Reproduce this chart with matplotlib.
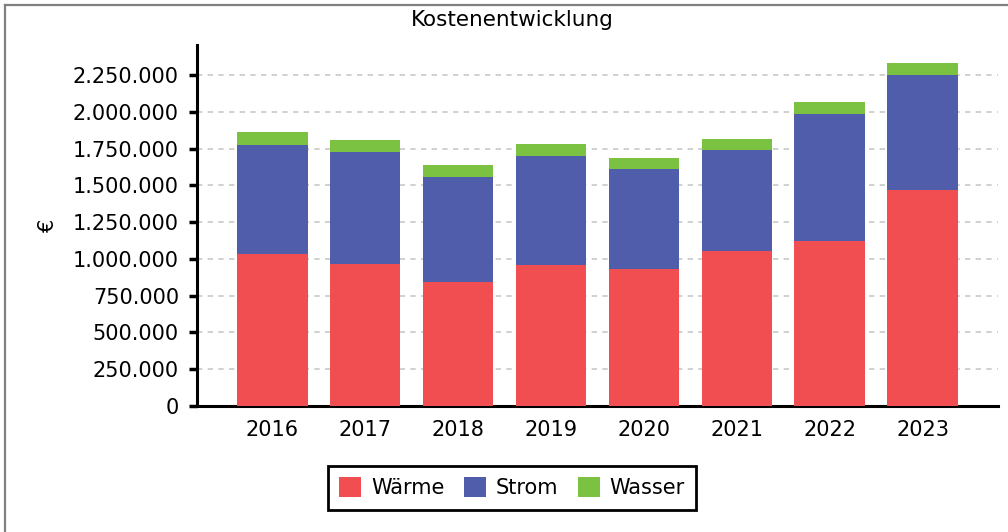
import matplotlib.pyplot as plt
from matplotlib.lines import Line2D
from matplotlib.ticker import FuncFormatter

# Data (EUR)
years = ['2016', '2017', '2018', '2019', '2020', '2021', '2022', '2023']
waerme = [1033000, 965000, 843000, 958000, 931000, 1054000, 1122000, 1468000]
strom = [741000, 762000, 714000, 742000, 680000, 686000, 863000, 782000]
wasser = [89000, 81000, 81000, 81000, 75000, 75000, 82000, 82000]

c_waerme = '#F04E50'
c_strom = '#505DAA'
c_wasser = '#7BC142'

plt.rcParams['font.family'] = ['DejaVu Sans']

fig = plt.figure(figsize=(10.08, 5.32), dpi=100)
ax = fig.add_axes([0.1954, 0.2368, 0.7946, 0.6786])

x = list(range(len(years)))
bottom2 = [w for w in waerme]
bottom3 = [w + s for w, s in zip(waerme, strom)]
ax.bar(x, waerme, width=0.76, color=c_waerme, label='Wärme', zorder=3)
ax.bar(x, strom, width=0.76, bottom=bottom2, color=c_strom, label='Strom', zorder=3)
ax.bar(x, wasser, width=0.76, bottom=bottom3, color=c_wasser, label='Wasser', zorder=3)

ax.set_xlim(-0.81, 7.81)
ax.set_ylim(0, 2454000)
ax.set_yticks([i * 250000 for i in range(10)])
ax.yaxis.set_major_formatter(FuncFormatter(lambda v, p: f'{int(v):,}'.replace(',', '.')))
ax.set_xticks(x)
ax.set_xticklabels(years)

ax.grid(axis='y', color='#c8c8c8', linestyle=(0, (3.2, 3.2)), linewidth=1.2, zorder=1)
for s in ['top', 'right']:
    ax.spines[s].set_visible(False)
ax.spines['left'].set_linewidth(2.2)
ax.spines['bottom'].set_linewidth(2.2)
ax.tick_params(axis='y', length=6, width=2.5, labelsize=15, pad=7)
ax.tick_params(axis='x', length=0, labelsize=15, pad=10)
ax.set_ylabel('€', fontsize=15, labelpad=11)

fig.text(0.508, 0.962, 'Kostenentwicklung', ha='center', va='center', fontsize=15.5)

leg = fig.legend(loc='center', bbox_to_anchor=(0.508, 0.083), ncol=3, fontsize=15,
                 frameon=True, fancybox=False, edgecolor='black', framealpha=1,
                 handlelength=1.06, handleheight=1.06, columnspacing=0.92,
                 handletextpad=0.48, borderpad=0.55, borderaxespad=0)
leg.get_frame().set_linewidth(2)

# gray frame on left and top edge
fig.add_artist(Line2D([5 / 1008, 5 / 1008], [0, 1 - 5 / 532], color='#808080', lw=1.6,
                      transform=fig.transFigure))
fig.add_artist(Line2D([5 / 1008, 1], [1 - 5 / 532, 1 - 5 / 532], color='#808080', lw=1.6,
                      transform=fig.transFigure))

fig.savefig('out.png', dpi=100)
